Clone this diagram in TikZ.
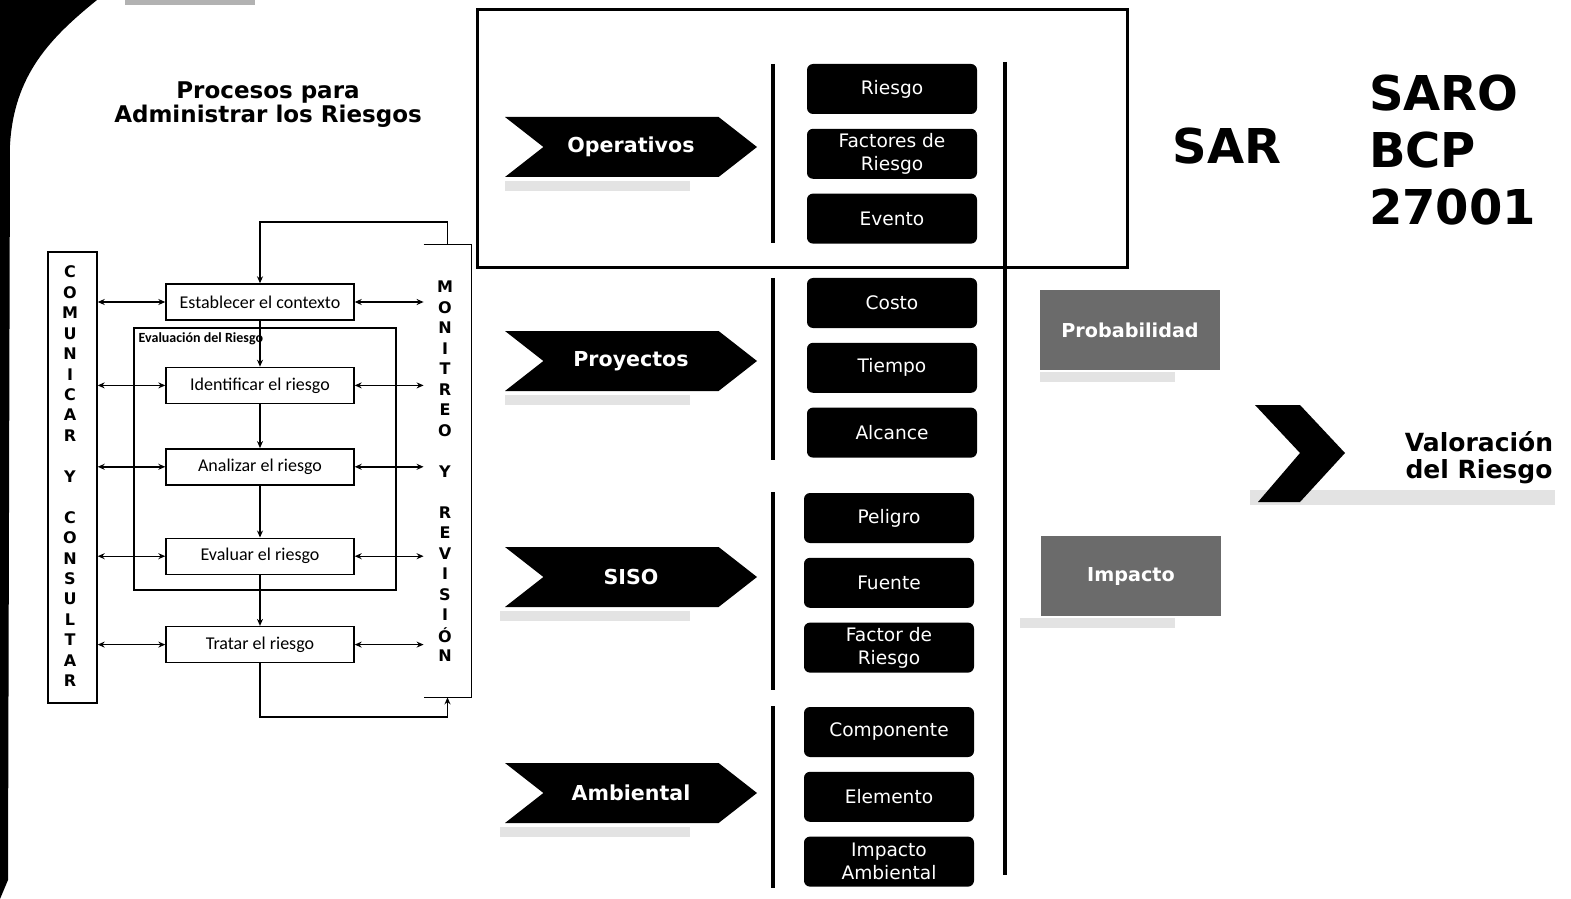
\documentclass[tikz,border=0pt]{standalone}
\usepackage{fontspec}
\setmainfont{DejaVu Sans}
\newfontfamily\calfont{Carlito}
\usetikzlibrary{positioning}
\usetikzlibrary{shapes.symbols}
\usetikzlibrary{arrows.meta}

\tikzset{
  proceso/.style={draw, line width=0.7pt, minimum width=94pt, minimum height=18pt, inner sep=0pt, font=\calfont\fontsize{9}{10}\selectfont},
  letra/.style={inner sep=0pt, font=\bfseries\fontsize{8}{8}\selectfont},
  flecha/.style={line width=0.7pt, >={Stealth[length=3.5pt,width=3pt]}},
  caja/.style={fill=black, text=white, rounded corners=3pt, minimum width=85pt, minimum height=25pt, inner sep=1pt, align=center, font=\fontsize{9.3}{11.5}\selectfont},
  flechon/.style={signal, signal from=west, signal to=east, signal pointer angle=76, fill=black, text=white, minimum width=126pt, minimum height=30pt, inner sep=0pt, font=\bfseries\fontsize{10.3}{12}\selectfont},
  gris/.style={fill=black!58, text=white, minimum width=90pt, minimum height=40pt, font=\bfseries\fontsize{9.6}{11}\selectfont},
  sombra/.style={fill=gray!22},
  barra/.style={line width=2pt},
}

\begin{document}
\begin{tikzpicture}[x=0.5pt, y=-0.5pt]
    \useasboundingbox (0,0) rectangle (1571,899) ; %

    % borde oscuro del escaneo
    \fill (0,0) -- (97,0) .. controls (50,38) and (14,75) .. (10,145) -- (8,880) -- (0,899) -- cycle ; %
    \fill[gray!60] (125,0) rectangle (255,5) ; %

    % titulo
    \node[font=\bfseries\fontsize{11.5}{12}\selectfont, align=center] (titulo) at (268,105) {Procesos para\\Administrar los Riesgos} ; %

    % procesos
    \node[proceso] (est) at (260,302) {Establecer el contexto} ; %
    \node[proceso, below=23pt of est] (ident) {Identificar el riesgo} ; %
    \node[proceso, below=22pt of ident] (anal) {Analizar el riesgo} ; %
    \node[proceso, below=26pt of anal] (eval) {Evaluar el riesgo} ; %
    \node[proceso, below=25.5pt of eval] (trat) {Tratar el riesgo} ; %

    \node[draw, line width=0.7pt, minimum width=131pt, minimum height=131pt, inner sep=0pt] (evaluacion) at (265,459) {} ; %
    \node[anchor=north west, inner sep=2.5pt, font=\calfont\bfseries\fontsize{7}{8}\selectfont] (evaluacion_lbl) at (evaluacion.north west) {Evaluación del Riesgo} ; %

    \node[draw, line width=0.7pt, minimum width=24.5pt, minimum height=225.5pt, inner sep=0pt] (comunicar) at (72.5,477.5) {} ; %
    \foreach \l [count=\i] in {C,O,M,U,N,I,C,A,R,{},Y,{},C,O,N,S,U,L,T,A,R}
        \node[letra] at (70,{272+20.45*(\i-1)}) {\l} ; %

    \node[minimum width=23.5pt, minimum height=226pt, inner sep=0pt] (monitoreo) at (447.5,471) {} ; %
    \draw[line width=0.7pt] (monitoreo.north west) -- (monitoreo.north east) -- (monitoreo.south east) -- (monitoreo.south west) ; %
    \foreach \l [count=\i] in {M,O,N,I,T,R,E,O,{},Y,{},R,E,V,I,S,I,Ó,N}
        \node[letra] at (445,{287+20.5*(\i-1)}) {\l} ; %

    \coordinate (arriba) at (est.north |- 0,222) ; %
    \coordinate (abajo) at (trat.south |- 0,717) ; %

    \draw[flecha, ->] (monitoreo.north) |- (arriba) -- (est.north) ; %
    \draw[flecha, ->] (est) -- (ident) ; %
    \draw[flecha, ->] (ident) -- (anal) ; %
    \draw[flecha, ->] (anal) -- (eval) ; %
    \draw[flecha, ->] (eval) -- (trat) ; %
    \draw[flecha, ->] (trat.south) -- (abajo) -| (monitoreo.south) ; %

    \foreach \p in {est,ident,anal,eval,trat} {
        \draw[flecha, <->] (comunicar.east |- \p.west) -- (\p.west) ; %
        \draw[flecha, <->] (\p.east) -- (monitoreo.west |- \p.east) ; %
    }

    % recuadro superior
    \draw[line width=1.5pt] (477,10) rectangle (1127,268) ; %

    % sombras
    \fill[sombra] (505,181) rectangle (690,191) ; %
    \fill[sombra] (505,395) rectangle (690,405) ; %
    \fill[sombra] (500,611) rectangle (690,621) ; %
    \fill[sombra] (500,827) rectangle (690,837) ; %
    \fill[sombra] (1040,372) rectangle (1175,382) ; %
    \fill[sombra] (1020,618) rectangle (1175,628) ; %
    \fill[sombra] (1250,490) rectangle (1555,505) ; %

    % tipos de riesgo
    \node[flechon] (operativos) at (631,147) {Operativos} ; %
    \node[flechon] (proyectos) at (631,361) {Proyectos} ; %
    \node[flechon] (siso) at (631,577) {SISO} ; %
    \node[flechon] (ambiental) at (631,793) {Ambiental} ; %

    \node[caja] (riesgo) at (892,89) {Riesgo} ; %
    \node[caja, below=7pt of riesgo] (factores) {Factores de\\Riesgo} ; %
    \node[caja, below=7pt of factores] (evento) {Evento} ; %

    \node[caja] (costo) at (892,303) {Costo} ; %
    \node[caja, below=7pt of costo] (tiempo) {Tiempo} ; %
    \node[caja, below=7pt of tiempo] (alcance) {Alcance} ; %

    \node[caja] (peligro) at (889,518) {Peligro} ; %
    \node[caja, below=7pt of peligro] (fuente) {Fuente} ; %
    \node[caja, below=7pt of fuente] (factor) {Factor de\\Riesgo} ; %

    \node[caja] (componente) at (889,732) {Componente} ; %
    \node[caja, below=7pt of componente] (elemento) {Elemento} ; %
    \node[caja, below=7pt of elemento] (impacto_amb) {Impacto\\Ambiental} ; %

    \draw[barra] (773,64) -- (773,243) ; %
    \draw[barra] (773,278) -- (773,460) ; %
    \draw[barra] (773,492) -- (773,690) ; %
    \draw[barra] (773,706) -- (773,888) ; %
    \draw[barra] (1005,62) -- (1005,875) ; %

    % normas
    \node[font=\bfseries\fontsize{24}{28}\selectfont] (sar) at (1227,146) {SAR} ; %
    \node[anchor=west, align=left, font=\bfseries\fontsize{24}{28.5}\selectfont] (normas) at (1362,150) {SARO\\BCP\\27001} ; %

    % valoracion
    \node[gris] (probabilidad) at (1130,330) {Probabilidad} ; %
    \node[gris] (impacto) at (1131,576) {Impacto} ; %
    \fill (1255,405) -- (1300,405) -- (1345,453) -- (1300,502) -- (1258,502) -- (1300,453) -- cycle ; %
    \node[align=center, font=\bfseries\fontsize{12.5}{13.5}\selectfont] (valoracion) at (1479,458) {Valoración\\del Riesgo} ; %

\end{tikzpicture}
\end{document}
